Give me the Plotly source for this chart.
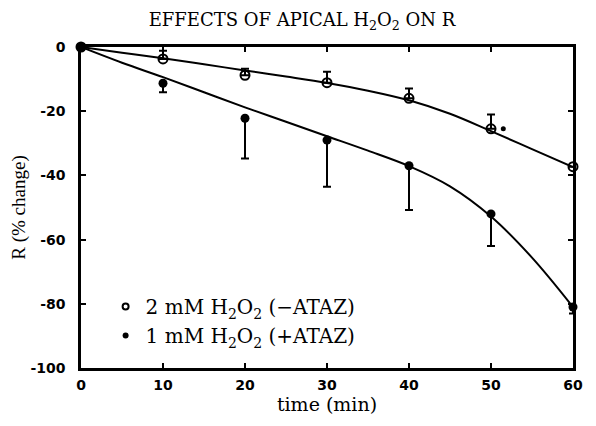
import plotly.graph_objects as go

time_min = [0, 10, 20, 30, 40, 50, 60]

# 2 mM H2O2 (-ATAZ), open circles
open_vals = [0, -3.7, -8.8, -11.1, -16.0, -25.5, -37.3]
open_err_up = [0, 2.5, 2.0, 3.4, 3.1, 4.5, 0]

# 1 mM H2O2 (+ATAZ), filled circles
filled_vals = [0, -11.3, -22.2, -29.0, -37.0, -52.0, -81.0]
filled_err_down = [0, 2.8, 12.5, 14.5, 13.8, 10.0, 2.0]

# fitted curves, every 5 min
fit_time = [0, 5, 10, 15, 20, 25, 30, 35, 40, 45, 50, 55, 60]
open_fit = [0, -1.8, -3.5, -5.4, -7.3, -9.2, -11.2, -13.6, -16.6, -20.8, -26.2, -31.8, -37.4]
filled_fit = [0, -4.9, -9.4, -14.1, -18.8, -23.3, -27.8, -32.3, -37.1, -43.4, -52.8, -65.6, -81.0]

x_ticks = [0, 10, 20, 30, 40, 50, 60]
x_ticktext = ["0", "10", "20", "30", "40", "50", "60"]
y_ticks = [0, -20, -40, -60, -80, -100]
y_ticktext = ["0", "-20", "-40", "-60", "-80", "-100"]

# significance markers next to open-circle points
sig_x = [51.5, 61.5]
sig_y = [-25.5, -37.1]

serif_wide = "DejaVu Serif"
serif = "Liberation Serif"
sans = "DejaVu Sans"

fig = go.Figure()

fig.add_trace(go.Scatter(x=fit_time, y=open_fit, mode="lines", line=dict(color="black", width=2, shape="spline"),
                         showlegend=False, hoverinfo="skip", cliponaxis=False))
fig.add_trace(go.Scatter(x=fit_time, y=filled_fit, mode="lines", line=dict(color="black", width=2, shape="spline"),
                         showlegend=False, hoverinfo="skip", cliponaxis=False))

fig.add_trace(go.Scatter(
    x=time_min, y=open_vals, mode="markers", showlegend=False, cliponaxis=False,
    marker=dict(symbol="circle-open", size=9, color="black", line=dict(width=2)),
    error_y=dict(type="data", symmetric=False, array=open_err_up, arrayminus=[0]*7,
                 color="black", thickness=2, width=4),
))
fig.add_trace(go.Scatter(
    x=time_min, y=filled_vals, mode="markers", showlegend=False, cliponaxis=False,
    marker=dict(symbol="circle", size=9, color="black"),
    error_y=dict(type="data", symmetric=False, array=[0]*7, arrayminus=filled_err_down,
                 color="black", thickness=2, width=4),
))

fig.add_trace(go.Scatter(x=sig_x, y=sig_y, mode="markers", showlegend=False, cliponaxis=False,
                         marker=dict(symbol="circle", size=5, color="black"), hoverinfo="skip"))

# legend entries
fig.add_trace(go.Scatter(x=[None], y=[None], mode="markers", name="2 mM H<sub>2</sub>O<sub>2</sub> (−ATAZ)",
                         marker=dict(symbol="circle-open", size=6, color="black", line=dict(width=2))))
fig.add_trace(go.Scatter(x=[None], y=[None], mode="markers", name="1 mM H<sub>2</sub>O<sub>2</sub> (+ATAZ)",
                         marker=dict(symbol="circle", size=6, color="black")))

fig.update_layout(
    width=588, height=418,
    margin=dict(l=73, r=23, t=39, b=58, autoexpand=False),
    paper_bgcolor="white", plot_bgcolor="white",
    title=dict(text="EFFECTS OF APICAL H<sub>2</sub>O<sub>2</sub> ON R", x=0.5, xanchor="center",
               y=0.972, yanchor="middle", font=dict(family=serif_wide, size=18, color="black")),
    showlegend=True,
    legend=dict(x=0.05, xanchor="left", y=0.252, yanchor="top", bgcolor="rgba(0,0,0,0)",
                font=dict(family=serif_wide, size=20, color="black"), tracegroupgap=0, itemwidth=30),
    xaxis=dict(range=[0, 60], tickvals=x_ticks, ticktext=x_ticktext, ticks="inside", ticklen=5,
               tickwidth=1.5, tickcolor="black", showline=True, linecolor="black", linewidth=2.5,
               mirror="ticks", showgrid=False, zeroline=False, ticklabelstandoff=2, automargin=False,
               tickfont=dict(family=sans, size=14, color="black", weight="bold"),
               title=dict(text="time (min)", font=dict(family=serif_wide, size=19, color="black"), standoff=5)),
    yaxis=dict(range=[-100, 0], tickvals=y_ticks, ticktext=y_ticktext, ticks="inside", ticklen=5,
               tickwidth=1.5, tickcolor="black", showline=True, linecolor="black", linewidth=2.5,
               mirror="ticks", showgrid=False, zeroline=False, ticklabelstandoff=10, automargin=False,
               tickfont=dict(family=sans, size=14, color="black", weight="bold"),
               title=dict(text="R (% change)", font=dict(family=serif, size=19, color="black"), standoff=4)),
)

fig.write_html("out.html")
